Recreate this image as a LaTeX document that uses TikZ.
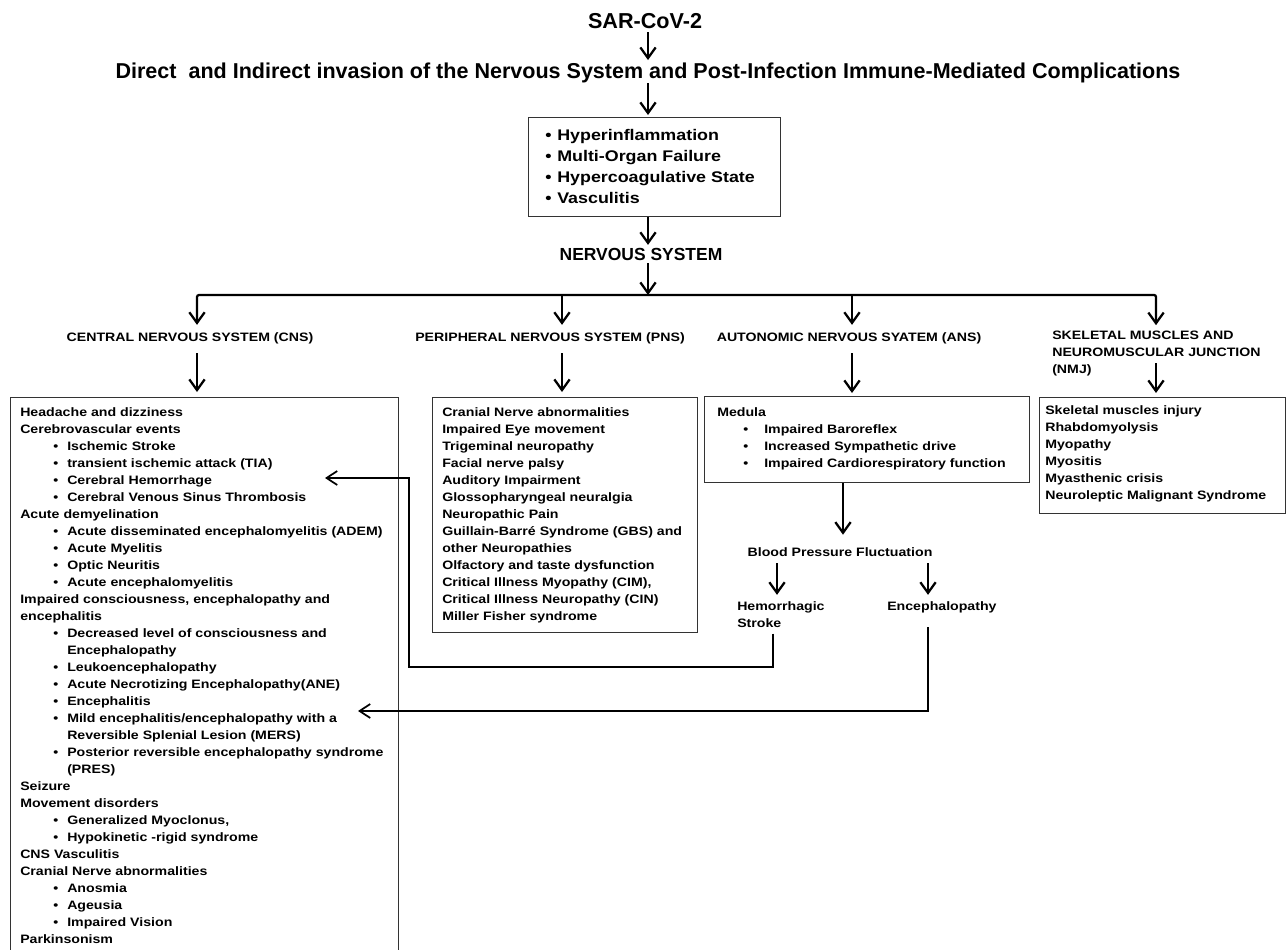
\documentclass[tikz,border=0pt]{standalone}
\usepackage{fontspec}
\setmainfont{Liberation Sans}
\newfontfamily\bodyf{Liberation Sans}[FakeStretch=1.16]
\newfontfamily\headf{Liberation Sans}
\usetikzlibrary{arrows.meta}
\newcommand\bul[3]{\hspace*{#1}\makebox[#2][l]{\textbullet}#3}
\newcommand\cb[1]{\bul{24.75pt}{10.5pt}{#1}}
\newcommand\cc[1]{\hspace*{35.25pt}#1}
\newcommand\ab[1]{\bul{19.5pt}{15.75pt}{#1}}
\begin{document}
\begin{tikzpicture}[x=0.75pt,y=-0.75pt,
  bodyfont/.style={font={\bodyf\bfseries\fontsize{9.15pt}{12.75pt}\selectfont}},
  body/.style={bodyfont, inner sep=0pt, align=left, anchor=north west},
  lab/.style={bodyfont, inner sep=0pt, align=left},
  box/.style={draw=black!80, line width=1pt, anchor=north west, inner sep=0pt},
  arr/.style={line width=1.7pt, -{Straight Barb[length=8pt,width=11.5pt]}},
  link/.style={line width=1.3pt, -{Straight Barb[length=8pt,width=10.5pt]}}]
\useasboundingbox (0,0) rectangle (1287,949);

% top column
\node[font={\headf\bfseries\fontsize{16.2pt}{18pt}\selectfont}, inner sep=0pt] (sars) at (645,21) {SAR-CoV-2};
\node[font={\headf\bfseries\fontsize{16.15pt}{18pt}\selectfont}, inner sep=0pt] (direct) at (648,73)
  {Direct\ \ and Indirect invasion of the Nervous\ System and Post-Infection Immune-Mediated Complications};
\node[box, minimum width=189pt, minimum height=74.25pt] (hyperbox) at (528,117) {};
\node[inner sep=0pt, align=left, anchor=north west,
      font={\bodyf\bfseries\fontsize{11.55pt}{15.75pt}\selectfont}] (hypertext) at (545,129.3)
  {\bul{0pt}{9pt}{Hyperinflammation}\\
   \bul{0pt}{9pt}{Multi-Organ Failure}\\
   \bul{0pt}{9pt}{Hypercoagulative State}\\
   \bul{0pt}{9pt}{Vasculitis}};
\node[font={\headf\bfseries\fontsize{13.1pt}{15pt}\selectfont}, inner sep=0pt] (nervous) at (641,254) {NERVOUS SYSTEM};

\coordinate (col) at (648,0);
\draw[arr, shorten <=2.5pt, shorten >=2pt] (col |- sars.south) -- (col |- direct.north);
\draw[arr, shorten >=1.5pt] (col |- direct.south) -- (col |- hyperbox.north);
\draw[arr, shorten >=2pt] (col |- hyperbox.south) -- (col |- nervous.north);
\coordinate (split) at (648,295);
\draw[arr, shorten <=2pt] (col |- nervous.south) -- (split);

% branch labels
\coordinate (cx) at (197,295);
\coordinate (px) at (562,295);
\coordinate (ax) at (852,295);
\coordinate (sx) at (1156,295);
\node[lab] (cnsl) at (190,338) {CENTRAL NERVOUS\ SYSTEM (CNS)};
\node[lab] (pnsl) at (550,338) {PERIPHERAL NERVOUS SYSTEM (PNS)};
\node[lab] (ansl) at (849,338) {AUTONOMIC NERVOUS SYATEM (ANS)};
\node[body] (skml) at (1052,330.5) {SKELETAL MUSCLES AND\\NEUROMUSCULAR JUNCTION\\(NMJ)};

\draw[arr, rounded corners=1.5pt, shorten >=5.4pt] (split) -| (cx |- cnsl.north);
\draw[arr, rounded corners=1.5pt, shorten >=4pt] (split) -| (sx |- skml.north);
\draw[arr, shorten >=5.4pt] (px) -- (px |- pnsl.north);
\draw[arr, shorten >=5.4pt] (ax) -- (ax |- ansl.north);

% boxes
\node[box, minimum width=291pt, minimum height=420pt] (cnsbox) at (10,397) {};
\node[box, minimum width=198.75pt, minimum height=176.25pt] (pnsbox) at (432,397) {};
\node[box, minimum width=243.75pt, minimum height=64.5pt] (ansbox) at (704,396) {};
\node[box, minimum width=184.5pt, minimum height=87pt] (skmbox) at (1039,397) {};

\draw[arr, shorten <=7pt, shorten >=3.75pt] (cx |- cnsl.south) -- (cx |- cnsbox.north);
\draw[arr, shorten <=7pt, shorten >=3.75pt] (px |- pnsl.south) -- (px |- pnsbox.north);
\draw[arr, shorten <=7pt, shorten >=2.25pt] (ax |- ansl.south) -- (ax |- ansbox.north);
\draw[arr, shorten <=-9.75pt, shorten >=3pt] (sx |- skml.south) -- (sx |- skmbox.north);

% box texts
\node[body] (cnstext) at (20,407.5)
 {Headache and dizziness\\
  Cerebrovascular\ events\\
  \cb{Ischemic\ Stroke}\\
  \cb{transient ischemic\ attack (TIA)}\\
  \cb{Cerebral Hemorrhage}\\
  \cb{Cerebral Venous\ Sinus Thrombosis}\\
  Acute demyelination\\
  \cb{Acute disseminated encephalomyelitis (ADEM)}\\
  \cb{Acute Myelitis}\\
  \cb{Optic Neuritis}\\
  \cb{Acute encephalomyelitis}\\
  Impaired consciousness, encephalopathy and\\
  encephalitis\\
  \cb{Decreased level of consciousness and}\\
  \cc{Encephalopathy}\\
  \cb{Leukoencephalopathy}\\
  \cb{Acute Necrotizing Encephalopathy(ANE)}\\
  \cb{Encephalitis}\\
  \cb{Mild encephalitis/encephalopathy\ with a}\\
  \cc{Reversible\ Splenial Lesion (MERS)}\\
  \cb{Posterior reversible encephalopathy syndrome}\\
  \cc{(PRES)}\\
  Seizure\\
  Movement disorders\\
  \cb{Generalized Myoclonus,}\\
  \cb{Hypokinetic -rigid syndrome}\\
  CNS Vasculitis\\
  Cranial Nerve abnormalities\\
  \cb{Anosmia}\\
  \cb{Ageusia}\\
  \cb{Impaired Vision}\\
  Parkinsonism};

\node[body] (pnstext) at (442,407.5)
 {Cranial Nerve abnormalities\\
  Impaired Eye movement\\
  Trigeminal neuropathy\\
  Facial nerve palsy\\
  Auditory Impairment\\
  Glossopharyngeal neuralgia\\
  Neuropathic Pain\\
  Guillain-Barré Syndrome (GBS) and\\
  other Neuropathies\\
  Olfactory and taste dysfunction\\
  Critical Illness Myopathy (CIM),\\
  Critical Illness Neuropathy (CIN)\\
  Miller Fisher syndrome};

\node[body] (anstext) at (717,407.5)
 {Medula\\
  \ab{Impaired Baroreflex}\\
  \ab{Increased Sympathetic drive}\\
  \ab{Impaired Cardiorespiratory function}};

\node[body] (skmtext) at (1045,405.5)
 {Skeletal muscles injury\\
  Rhabdomyolysis\\
  Myopathy\\
  Myositis\\
  Myasthenic crisis\\
  Neuroleptic Malignant Syndrome};

% ANS chain
\coordinate (bcol) at (843,482);
\coordinate (hx) at (777,563);
\coordinate (ex) at (928,563);
\node[lab] (bpf) at (840,552) {Blood Pressure\ Fluctuation};
\node[body] (heml) at (737,601.5) {Hemorrhagic\\Stroke};
\node[body] (encl) at (887,601.5) {Encephalopathy};

\draw[arr, shorten >=9.4pt] (bcol |- ansbox.south) -- (bcol |- bpf.north);
\draw[arr, shorten <=5pt, shorten >=5pt] (hx |- bpf.south) -- (hx |- heml.north);
\draw[arr, shorten <=5pt, shorten >=5pt] (ex |- bpf.south) -- (ex |- encl.north);

% feedback connectors
\coordinate (st1) at (773,667);
\coordinate (st2) at (409,667);
\coordinate (st3) at (409,478);
\coordinate (hemtip) at (325,478);
\draw[link, shorten <=4.2pt] (st1 |- heml.south) -- (st1) -- (st2) -- (st3) -- (hemtip);
\coordinate (en1) at (928,711);
\coordinate (enctip) at (358,711);
\draw[link, shorten <=10.5pt] (en1 |- encl.south) -- (en1) -- (enctip);
\end{tikzpicture}
\end{document}
